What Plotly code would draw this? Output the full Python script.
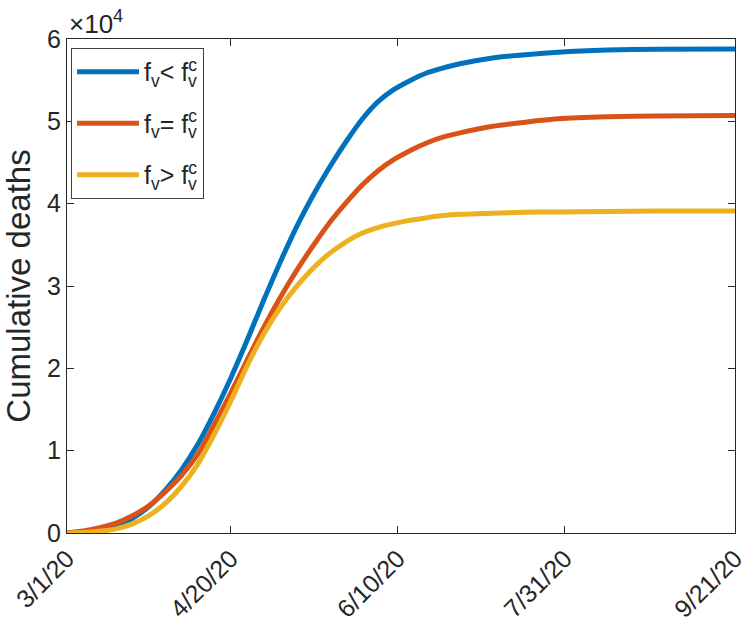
import plotly.graph_objects as go
import pandas as pd

days = [0, 5, 10, 15, 20, 25, 30, 35, 40, 45, 50, 55, 60, 65, 70, 75, 80, 85, 90, 95,
        100, 105, 110, 115, 120, 130, 140, 150, 165, 180, 204]
deaths_below = [0, 150, 500, 1000, 1800, 3200, 5200, 7700, 10800, 14600, 18800, 23400,
                28200, 32800, 37100, 40900, 44300, 47400, 50200, 52400, 53900, 55000,
                55900, 56500, 57000, 57700, 58100, 58400, 58650, 58750, 58800]
deaths_equal = [0, 250, 650, 1200, 2100, 3300, 5000, 7000, 9600, 13200, 17000, 21000,
                24900, 28500, 31800, 34800, 37600, 40000, 42200, 44000, 45400, 46500,
                47400, 48100, 48600, 49400, 49900, 50300, 50550, 50650, 50700]
deaths_above = [0, 60, 200, 500, 1100, 2100, 3600, 5700, 8400, 12000, 16000, 20300,
                24100, 27300, 29900, 32100, 33900, 35300, 36400, 37100, 37600, 38000,
                38300, 38550, 38700, 38850, 38950, 39000, 39050, 39100, 39100]

sup_c = "<sup><span style='letter-spacing:-9px'>c</span></sup>"
series_names = ["f<sub>v</sub>< f" + sup_c + "<sub>v</sub>",
                "f<sub>v</sub>= f" + sup_c + "<sub>v</sub>",
                "f<sub>v</sub>> f" + sup_c + "<sub>v</sub>"]
series_values = [deaths_below, deaths_equal, deaths_above]
colors = ["#0072BD", "#D95319", "#EDB120"]

tick_dates = ["2020-03-01", "2020-04-20", "2020-06-10", "2020-07-31", "2020-09-21"]
tick_labels = ["3/1/20", "4/20/20", "6/10/20", "7/31/20", "9/21/20"]
y_ticks = [0, 10000, 20000, 30000, 40000, 50000, 60000]
y_labels = ["0", "1", "2", "3", "4", "5", "6"]

dates = pd.Timestamp("2020-03-01") + pd.to_timedelta(days, unit="D")

fig = go.Figure()
for i, (name, vals, col) in enumerate(zip(series_names, series_values, colors)):
    fig.add_trace(go.Scatter(
        x=dates, y=vals, mode="lines", name=name,
        line=dict(color=col, width=5, shape="spline", smoothing=0.7),
        legendgroup=f"g{i}",
    ))

ink = "#262626"
font_family = "Liberation Sans, Arial, sans-serif"
fig.update_layout(
    width=752, height=632,
    margin=dict(l=67, r=17, t=39, b=99),
    paper_bgcolor="white", plot_bgcolor="white",
    font=dict(family=font_family, size=25, color=ink),
    showlegend=True,
    legend=dict(
        x=0.006, y=0.982, xanchor="left", yanchor="top",
        bgcolor="white", bordercolor="#404040", borderwidth=1,
        font=dict(size=25, color=ink),
        tracegroupgap=16, itemwidth=62,
    ),
    xaxis=dict(
        type="date",
        range=["2020-03-01", "2020-09-21"],
        tickvals=tick_dates, ticktext=tick_labels,
        tickangle=-45,
        ticks="inside", ticklen=7, tickcolor=ink,
        showline=True, linecolor=ink, linewidth=1, mirror="allticks",
        showgrid=False, zeroline=False, automargin=False,
        tickfont=dict(size=25, color=ink),
    ),
    yaxis=dict(
        range=[0, 60000],
        tickvals=y_ticks, ticktext=y_labels,
        ticks="inside", ticklen=7, tickcolor=ink,
        showline=True, linecolor=ink, linewidth=1, mirror="allticks",
        showgrid=False, zeroline=False, automargin=False,
        tickfont=dict(size=25, color=ink),
        title=dict(text="Cumulative deaths", font=dict(size=33, color=ink), standoff=24),
    ),
    annotations=[dict(
        text="×10<sup>4</sup>", x=0, y=1, xref="paper", yref="paper",
        xanchor="left", yanchor="bottom", showarrow=False, yshift=-2,
        font=dict(size=26, color=ink),
    )],
)

fig.write_html("out.html", config={"displayModeBar": False},
               post_script="document.body.style.margin='0';")
